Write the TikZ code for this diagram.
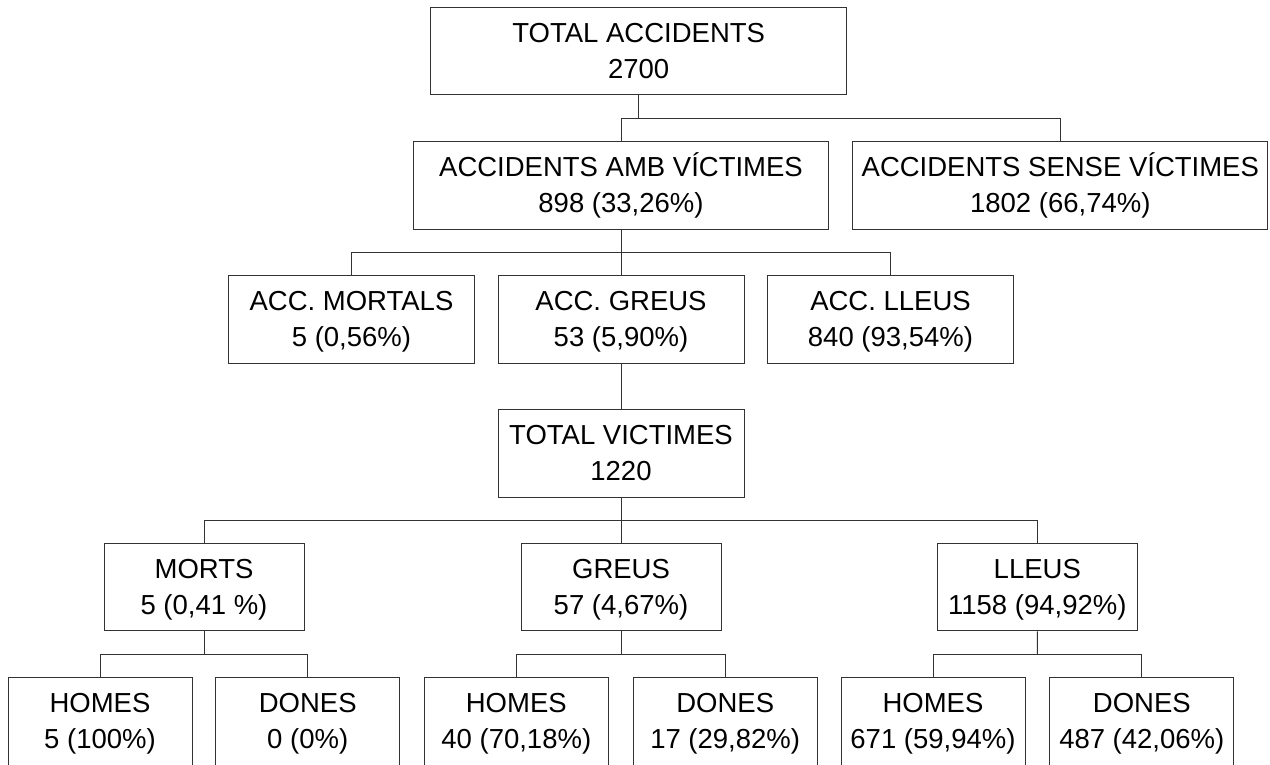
\documentclass[tikz,border=0pt]{standalone}
\usepackage{fontspec}
\setmainfont{Liberation Sans}
\usepackage{tikz}
\usetikzlibrary{positioning,calc}

\begin{document}
\begin{tikzpicture}[x=1pt,y=-1pt,
  box/.style={draw=black!80,line width=1pt,fill=white,inner sep=0pt,
    minimum height=87.5pt,align=center,text height=56pt,text depth=2pt,
    font=\fontsize{27.5}{36}\selectfont},
  wide/.style={box,minimum width=415pt},
  midbox/.style={box,minimum width=246pt},
  subbox/.style={box,minimum width=200pt},
  leaf/.style={box,minimum width=184pt},
  link/.style={draw=black!80,line width=1pt}]
\useasboundingbox (0,0) rectangle (1270,764);
% levels
\node[wide,minimum width=416pt] (total) at (638.7,51.2) {TOTAL ACCIDENTS\\2700};
\node[wide] (amb) at (621,185.5) {ACCIDENTS AMB VÍCTIMES\\898 (33,26\%)};
\node[wide] (sense) at (1060.3,185.5) {ACCIDENTS SENSE VÍCTIMES\\1802 (66,74\%)};
\node[midbox] (accmort) at (351.5,319.5) {ACC. MORTALS\\5 (0,56\%)};
\node[midbox] (accgreu) at (621,319.5) {ACC. GREUS\\53 (5,90\%)};
\node[midbox] (acclleu) at (890.5,319.5) {ACC. LLEUS\\840 (93,54\%)};
\node[midbox] (totvic) at (621,453.7) {TOTAL VICTIMES\\1220};
\node[subbox] (morts) at (204,587) {MORTS\\5 (0,41 \%)};
\node[subbox] (greus) at (621,587) {GREUS\\57 (4,67\%)};
\node[subbox] (lleus) at (1037.3,587) {LLEUS\\1158 (94,92\%)};
\node[leaf] (hmorts) at (100,721.5) {HOMES\\5 (100\%)};
\node[leaf] (dmorts) at (307.7,721.5) {DONES\\0 (0\%)};
\node[leaf] (hgreus) at (516.3,721.5) {HOMES\\40 (70,18\%)};
\node[leaf] (dgreus) at (725.2,721.5) {DONES\\17 (29,82\%)};
\node[leaf] (hlleus) at (933,721.5) {HOMES\\671 (59,94\%)};
\node[leaf] (dlleus) at (1141.8,721.5) {DONES\\487 (42,06\%)};
% connectors
\coordinate (j1) at ($(total.south)!.5!(amb.north)$);
\draw[link] (total.south) -- (total.south |- j1);
\draw[link] (amb.north) |- (j1) -| (sense.north);
\coordinate (j2) at ($(amb.south)!.5!(accgreu.north)$);
\draw[link] (amb.south) -- (accgreu.north);
\draw[link] (accmort.north) |- (j2) -| (acclleu.north);
\draw[link] (accgreu.south) -- (totvic.north);
\coordinate (j3) at ($(totvic.south)!.5!(greus.north)$);
\draw[link] (totvic.south) -- (greus.north);
\draw[link] (morts.north) |- (j3) -| (lleus.north);
\foreach \p/\h/\d in {morts/hmorts/dmorts,greus/hgreus/dgreus,lleus/hlleus/dlleus}{
  \coordinate (j) at ($(\p.south)!.5!(\p.south |- \h.north)$);
  \draw[link] (\p.south) -- (j);
  \draw[link] (\h.north) |- (j) -| (\d.north);
}
\end{tikzpicture}
\end{document}
